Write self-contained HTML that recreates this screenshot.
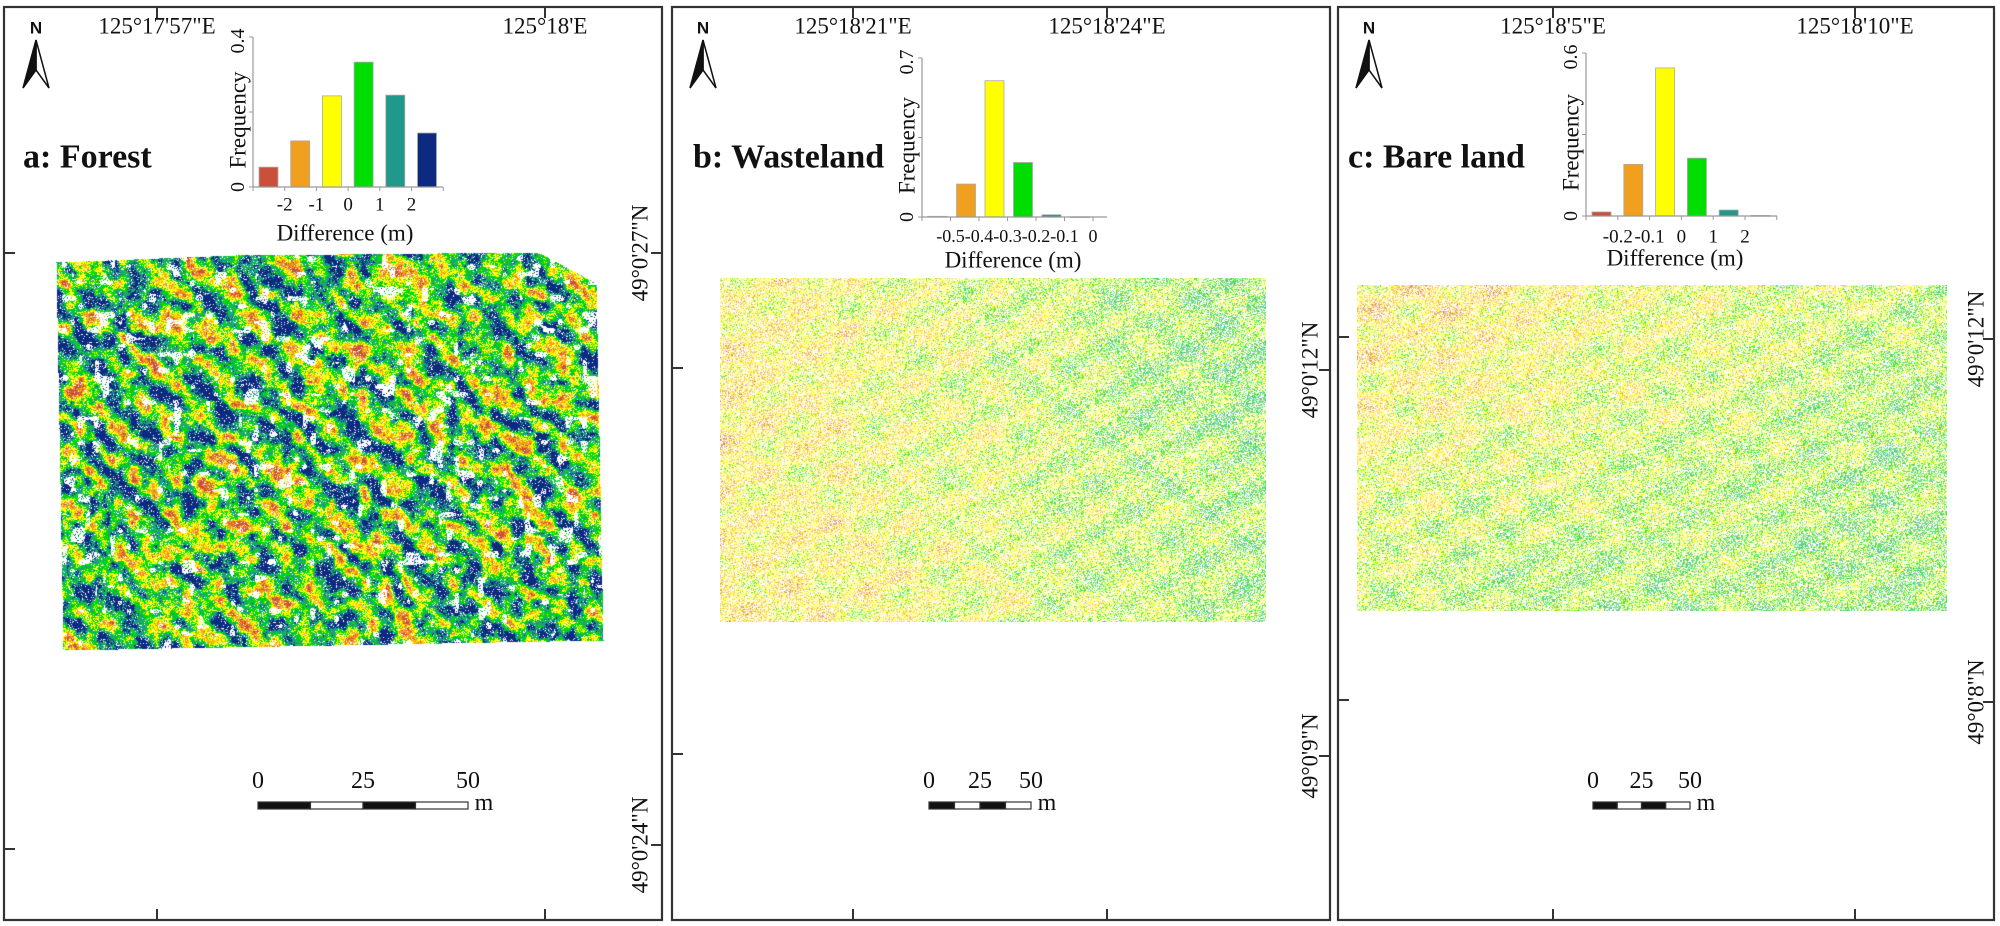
<!DOCTYPE html>
<html><head><meta charset="utf-8">
<style>
html,body{margin:0;padding:0;background:#fff;}
#root{position:relative;width:2000px;height:926px;overflow:hidden;background:#fff;}
canvas{position:absolute;}
svg{position:absolute;left:0;top:0;}
text{font-family:"Liberation Serif",serif;fill:#111;}
</style></head>
<body>
<div id="root">
<canvas id="mapA" style="left:56px;top:250px" width="550" height="402"></canvas>
<canvas id="mapB" style="left:720px;top:278px" width="546" height="344"></canvas>
<canvas id="mapC" style="left:1357px;top:285px" width="590" height="326"></canvas>
<svg id="svg" width="2000" height="926" viewBox="0 0 2000 926"></svg>
</div>
<script>
// ---- histogram data ----
const barColors=['#c9503a','#f0a01e','#ffff00','#00dd00','#20998a','#0c2a80'];
const valsA=[0.053,0.123,0.243,0.333,0.245,0.144];
const ticksA=['-2','-1','0','1','2'];
const maxA=0.4;
const valsB=[0.003,0.145,0.60,0.24,0.01,0.001];
const ticksB=['-0.5','-0.4','-0.3','-0.2','-0.1','0'];
const maxB=0.7;
const valsC=[0.015,0.19,0.545,0.213,0.022,0.002];
const ticksC=['-0.2','-0.1','0','1','2'];
const maxC=0.6;

const NS='http://www.w3.org/2000/svg';
const svg=document.getElementById('svg');
function mk(tag,attrs,parent){const e=document.createElementNS(NS,tag);for(const k in attrs)e.setAttribute(k,attrs[k]);(parent||svg).appendChild(e);return e;}
function txt(s,x,y,size,extra,parent){const t=mk('text',Object.assign({x:x,y:y,'font-size':size,'text-anchor':'middle','dominant-baseline':'central'},extra||{}),parent);t.textContent=s;return t;}

// ---- panels ----
const panels=[
 {x0:4,x1:662,topTicks:[157,545],topLabels:['125°17\'57"E','125°18\'E'],side:[253,845],sideLabels:['49°0\'27"N','49°0\'24"N'],sideLabelX:640,leftTicks:[253,849],
  north:36,title:'a: Forest',titleX:23,name:'forest'},
 {x0:672,x1:1330,topTicks:[853,1107],topLabels:['125°18\'21"E','125°18\'24"E'],side:[370,756],sideLabels:['49°0\'12"N','49°0\'9"N'],sideLabelX:1310,leftTicks:[368,754],
  north:703,title:'b: Wasteland',titleX:693,name:'wasteland'},
 {x0:1338,x1:1994,topTicks:[1553,1855],topLabels:['125°18\'5"E','125°18\'10"E'],side:[339,702],sideLabels:['49°0\'12"N','49°0\'8"N'],sideLabelX:1976,leftTicks:[337,700],
  north:1369,title:'c: Bare land',titleX:1348,name:'bare-land'}
];
const Y0=7,Y1=920;
panels.forEach((p,i)=>{
  const g=mk('g',{});
  
  
  const r=mk('rect',{x:p.x0,y:Y0,width:p.x1-p.x0,height:Y1-Y0,fill:'none',stroke:'#333','stroke-width':2.2},g);
  
  
  p.topTicks.forEach((tx,j)=>{
    mk('line',{x1:tx,y1:Y0,x2:tx,y2:Y0+11,stroke:'#333','stroke-width':2},g);
    mk('line',{x1:tx,y1:Y1,x2:tx,y2:Y1-11,stroke:'#333','stroke-width':2},g);
    const t=txt(p.topLabels[j],tx,26,23,{},g);
    
    
  });
  p.leftTicks.forEach(ty=>{mk('line',{x1:p.x0,y1:ty,x2:p.x0+11,y2:ty,stroke:'#333','stroke-width':2},g);});
  p.side.forEach((ty,j)=>{
    mk('line',{x1:p.x1,y1:ty,x2:p.x1-11,y2:ty,stroke:'#333','stroke-width':2},g);
    const t=txt(p.sideLabels[j],0,0,23,{transform:'translate('+p.sideLabelX+','+ty+') rotate(-90)'},g);
    
    
  });
  const n=mk('g',{},g);
  
  
  const nx=p.north;
  const nt=txt('N',nx,28,17,{'font-weight':'bold'},n);
  nt.setAttribute('style','font-family:"Liberation Sans",sans-serif');
  mk('polygon',{points:`${nx},40 ${nx+13},88 ${nx},70`,fill:'#fff',stroke:'#111','stroke-width':1.5},n);
  mk('polygon',{points:`${nx},40 ${nx-13},88 ${nx},70`,fill:'#111',stroke:'#111','stroke-width':1.5},n);
  const tt=txt(p.title,p.titleX,157,34,{'text-anchor':'start','font-weight':'bold'},g);
  
  
});

// ---- histograms ----
function histogram(cfg){
  const g=mk('g',{});
  
  
  const slot=cfg.slot, bw=19;
  const xs=i=>cfg.ax+6+i*slot;
  const ys=v=>cfg.base-(v/cfg.max)*(cfg.base-cfg.top);
  cfg.vals.forEach((v,i)=>{
    const y=ys(v);
    const b=mk('rect',{x:xs(i),y:y,width:bw,height:Math.max(cfg.base-y,0.8),fill:barColors[i],stroke:'#aaa','stroke-width':0.8},g);
    
    
  });
  mk('line',{x1:cfg.ax,y1:cfg.top,x2:cfg.ax,y2:cfg.base,stroke:'#999','stroke-width':1.2},g);
  mk('line',{x1:cfg.ax,y1:cfg.base,x2:cfg.end,y2:cfg.base,stroke:'#999','stroke-width':1.2},g);
  [0,0.5,1].forEach(f=>{const yy=ys(cfg.max*f);mk('line',{x1:cfg.ax-4,y1:yy,x2:cfg.ax,y2:yy,stroke:'#999','stroke-width':1},g);});
  for(let k=0;k<=6;k++){const xx=cfg.ax+k*slot;mk('line',{x1:xx,y1:cfg.base,x2:xx,y2:cfg.base+4,stroke:'#999','stroke-width':1},g);}
  const lx=cfg.ax-15;
  txt('0',0,0,20,{transform:`translate(${lx},${cfg.base}) rotate(-90)`},g);
  txt(String(cfg.max),0,0,20,{transform:`translate(${lx},${cfg.top+4}) rotate(-90)`},g);
  const ft=txt('Frequency',0,0,23,{transform:`translate(${lx},${(cfg.top+cfg.base)/2+8}) rotate(-90)`},g);
  
  
  cfg.ticks.forEach((s,k)=>{
    const xx=cfg.ax+(k+1)*slot;
    const t=txt(s,xx,cfg.base+cfg.tickOff,cfg.tickSize,{},g);
    
    
  });
  const dt=txt('Difference (m)',cfg.dx,cfg.dy,23,{},g);
  
  
}
histogram({name:'histogram-forest',vals:valsA,ticks:ticksA,max:maxA,ax:253,base:187,top:37,end:443,slot:31.7,tickOff:18,tickSize:19,dx:345,dy:233});
histogram({name:'histogram-wasteland',vals:valsB,ticks:ticksB,max:maxB,ax:922,base:217,top:58,end:1107,slot:28.5,tickOff:19,tickSize:18,dx:1013,dy:260});
histogram({name:'histogram-bare-land',vals:valsC,ticks:ticksC,max:maxC,ax:1586,base:216,top:53,end:1777,slot:31.8,tickOff:21,tickSize:19,dx:1675,dy:258});

// ---- scale bars ----
function scalebar(x0,x1,name){
  const g=mk('g',{});
  
  
  const w=(x1-x0)/4;
  for(let i=0;i<4;i++){mk('rect',{x:x0+i*w,y:802,width:w,height:7,fill:i%2?'#fff':'#111',stroke:'#333','stroke-width':1.2},g);}
  txt('0',x0,781,24,{},g);txt('25',(x0+x1)/2,781,24,{},g);txt('50',x1,781,24,{},g);
  txt('m',x1+16,803,24,{},g);
}
scalebar(258,468,'scale-bar-forest');
scalebar(929,1031,'scale-bar-wasteland');
scalebar(1593,1690,'scale-bar-bare-land');

// ---- map textures (decorative) ----
let seed=12345;
function rnd(){seed=(seed*1103515245+12345)&0x7fffffff;return seed/0x7fffffff;}
function makeNoise(gw,gh){const a=[];for(let i=0;i<gw*gh;i++)a.push(rnd());return {gw,gh,a};}
function vn(n,x,y){const ix=Math.floor(x),iy=Math.floor(y),fx=x-ix,fy=y-iy;
  const g=(i,j)=>n.a[(((j%n.gh)+n.gh)%n.gh)*n.gw+(((i%n.gw)+n.gw)%n.gw)];
  const sx=fx*fx*(3-2*fx),sy=fy*fy*(3-2*fy);
  return (g(ix,iy)*(1-sx)+g(ix+1,iy)*sx)*(1-sy)+(g(ix,iy+1)*(1-sx)+g(ix+1,iy+1)*sx)*sy;}
const rgb=[[201,80,58],[240,160,30],[255,255,0],[0,221,0],[32,153,138],[12,42,128]];
function drawA(){
  const c=document.getElementById('mapA'),ctx=c.getContext('2d'),W=c.width,H=c.height;
  const img=ctx.createImageData(W,H),d=img.data;
  const n1=makeNoise(97,83),n2=makeNoise(151,131),n3=makeNoise(61,53);
  const poly=[[0,12],[180,5],[482,2],[540,33],[547,390],[7,400]];
  ctx.beginPath();poly.forEach((p,i)=>i?ctx.lineTo(p[0],p[1]):ctx.moveTo(p[0],p[1]));ctx.closePath();
  for(let y=0;y<H;y++)for(let x=0;x<W;x++){
    const k=(y*W+x)*4;
    if(!ctx.isPointInPath(x,y)){d[k]=d[k+1]=d[k+2]=255;d[k+3]=0;continue;}
    const warp=(vn(n3,x/30,y/30)-0.5)*40;
    let v=Math.sin((x-y*1.2+warp)*2*Math.PI/52)*0.8+(vn(n1,x/11,y/11)-0.5)*2.6+(vn(n2,x/4,y/4)-0.5)*1.4+(rnd()-0.5)*1.0;
    let cls=Math.floor((v+1.5)/0.66);cls=Math.max(0,Math.min(5,cls));
    cls=5-cls;
    const white=(vn(n3,x/8+7,y/8+3)>0.8&&rnd()<0.8)||rnd()<0.08;
    const col=white?[255,255,255]:rgb[cls];
    d[k]=col[0];d[k+1]=col[1];d[k+2]=col[2];d[k+3]=255;
  }
  ctx.putImageData(img,0,0);
}
function drawPale(id,bias){
  const c=document.getElementById(id),ctx=c.getContext('2d'),W=c.width,H=c.height;
  const img=ctx.createImageData(W,H),d=img.data;
  const n1=makeNoise(41,37);
  for(let y=0;y<H;y++)for(let x=0;x<W;x++){
    const k=(y*W+x)*4;
    let col=[255,255,255];
    if(rnd()<0.62){
      let v=bias(x/W,y/H)+Math.sin((x*0.55+y)*2*Math.PI/45)*0.3+Math.sin((x-y*1.4)*2*Math.PI/70)*0.2+(vn(n1,x/25,y/25)-0.5)*0.6+(rnd()-0.5)*1.8;
      let cls=v<-1.4?0:v<-0.7?1:v<0.5?2:v<1.4?3:4;
      const b=rgb[cls],m=0.2+rnd()*0.35;
      col=[b[0]+(255-b[0])*m,b[1]+(255-b[1])*m,b[2]+(255-b[2])*m];
    }
    d[k]=col[0];d[k+1]=col[1];d[k+2]=col[2];d[k+3]=255;
  }
  ctx.putImageData(img,0,0);
}
drawA();
drawPale('mapB',(u,v)=>-0.4+u*1.2-0.1*v);
drawPale('mapC',(u,v)=>-0.1+u*0.5+v*0.5-(1-u)*(1-v)*0.5);
</script>
</body></html>
